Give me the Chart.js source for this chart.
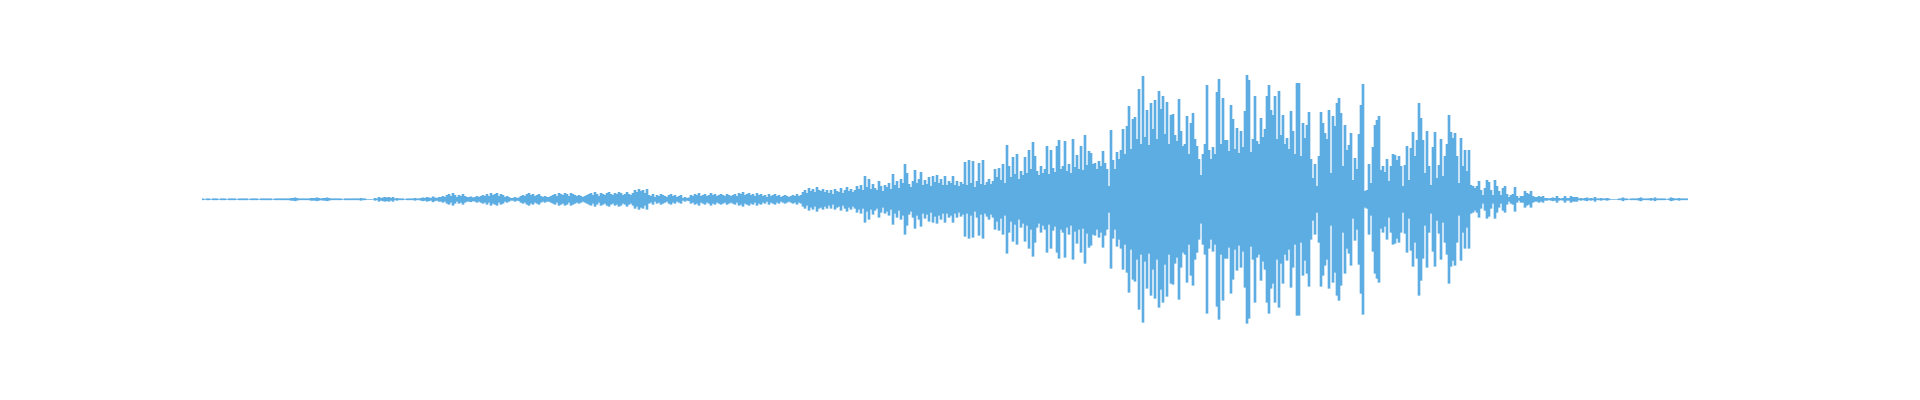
<!DOCTYPE html>
<html>
<head>
<meta charset="utf-8">
<title>Waveform</title>
<script src="https://cdn.jsdelivr.net/npm/chart.js@4"></script>
<style>
    html, body { margin: 0; padding: 0; background: #ffffff; }
    canvas { display: block; }
</style>
</head>
<body>
<canvas id="waveChart" width="1920" height="400"></canvas>
<script>
// peak amplitude per sample column (symmetric around zero)
const quietIntro = [
    0.5,0,0.5,0.5,0,0.5,0.5,0.5,0,0.5, 0.5,0.5,0,0.5,0.5,0.5,0.5,0,0.5,0.5,
    0.5,0.5,0.5,0,0.5,0.5,0.5,0.5,0,0.5, 0.5,0.5,0.5,0.5,0.5,0,0.5,0.5,0.5,0.5,
    0.5,0.5,0.5,0.5,1,1,1.5,1,0.5,0.5, 0.5,0.5,0.5,0.5,1,1,1,1.5,1,0.5,
    1,1,1.5,1,0.5,0.5,0.5,0.5,0.5,0.5, 0,0.5,0.5,0.5,0.5,0.5,0.5,0.5,0.5,1,
    0.5,0.5,0
];
const softRise = [
    0,0,0,
    1,0.5,2,1,1.5,2,1.5,2,1,2,0.5,1,0.5,
    0.5,0.5,0,0.5,0.5,0.5,0.5,1,0.5,0.5,
    1,1.5,1,2,1.5,1,2.5,1.5,1,2,
    2,3,2,4,5,3,6,4,2,4,3,5,3,2,
    2,2.5,1.5,2,3,2,
    3,4,3,5,3,6,4,5,6,3,5,4,2,3,2,
    1,1,2,1,1.5,
    3,4,3,5,6,4,5,3,4,5,3,
    2,3,2,2,3,
    4,5,3,6,5,4,6,5,3,6,5,4
];
const buildUp = [
    3,4,3,2,3,4,
    5,6,4,7,5,3,6,5,4,6,7,5,4,6,5,7,6,4,5,7,5,4,
    6,9,7,10,8,9,6,10,
    4,3,5,2,4,3,5,4,3,2,4,5,3,4,2,3,4,
    1,2,1,1.5,
    4,3,5,4,6,3,4,5,3,4,6,4,5,3,4,5,4,3,5,4,3,
    4,5,3,6,5,7,4,5,6,4,5,3,6,4,5,
    3,4,2,5,3,4,5,3,4,2,3,4,3,
    2,3,4,3,5,3,4,
    7,9,6,11,8,10,7,12,9,8,10,7,9,
    6,9,5,10,8,7,11,6,9,12,8,10,7,9,13,
    10,14,9,23,
    12,20,10,15,11,9,18,13,8,14,12,16,10,
    25,14,18,11,20,16,35,26,
    15,12,18,29,16,20,27,14,19,15,22,13,23,17,24,16,20,14,23,14,18
];
const loudPart = [
    16,23,14,18,13,17,15,
    37,14,39,16,38,12,18,36,15,39,
    14,17,20,15,18,30,22,31,19,35,16,54,
    33,22,42,25,45,20,28,24,42,26,49,30,57,
    43,28,24,33,26,30,53,25,49,31,27,53,59,
    30,33,58,28,35,26,60,32,44,30,53,29,64,34,48,
    46,35,36,30,38,33,48,36,30,13,69,39,30,47,
    40,49,70,45,73,93,50,80,82,60,110,55,123,62,89,54,
    96,70,99,60,108,90,103,65,97,55,84,85,64,58,100,68,53,
    55,83,45,76,86,60,53,40,24,45,55,114,49,40,52,45,107,
    120,55,101,59,59,48,94,80,50,71,46,68,52,88,124,119,
    47,60,103,58,55,81,62,70,103,114,89,84,103,60,108,64,84,
    55,61,50,88,68,45,116,116,43,76,61,74,87,40,21,35,13,43,87,76,66
];
const fadeOut = [
    60,89,26,83,73,96,101,
    86,33,74,49,54,66,19,41,30,65,94,115,8,
    9,35,16,52,74,79,83,29,33,27,40,18,33,
    45,44,39,43,33,13,34,53,19,51,67,43,59,96,
    81,59,26,68,33,14,52,67,21,34,60,23,43,55,
    84,67,61,66,43,16,61,33,49,28,49,14,13,11,
    13,18,9,4,11,19,17,9,4,19,13,8,4,11,13,5,2,4,5,12,3,1,3,3,8,6,5,8,3,2,
    2,3,2,3,1, 1,0.5,1,1.5,1, 3,1,0.5,1,3, 1,1,3,2,2,2,
    0.5,1,0.5,1,1.5, 0.5,1,0.5,2,0.5,0.5,1, 0.5,0.5,1,0.5,0, 0,0,0,0.5,
    0.5,1.5,0.5,0.5,0,0.5,0.5, 0.5,0.5,1,1.5,0.5,0.5,0.5,
    0.5,1,0.5,1.5,0.5,0.5,0.5, 0.5,0.5,0,0.5,1.5,1,0.5, 0.5,1,0.5,0.5,0.5,0.5
];

const amplitudes = [].concat(quietIntro, softRise, buildUp, loudPart, fadeOut);
const sampleLabels = amplitudes.map((v, i) => i + 1);

document.addEventListener('DOMContentLoaded', function() {
    createWaveChart();
});

function createWaveChart() {
    const ctx = document.getElementById('waveChart').getContext('2d');
    new Chart(ctx, {
        type: 'bar',
        data: {
            labels: sampleLabels,
            datasets: [{
                data: amplitudes.map(v => [-v, v]),
                backgroundColor: '#5dade2',
                borderWidth: 0,
                barPercentage: 1,
                categoryPercentage: 1
            }]
        },
        options: {
            responsive: false,
            animation: false,
            layout: {
                padding: { left: 202, right: 232, top: 0, bottom: 0 }
            },
            plugins: {
                legend: { display: false },
                tooltip: { enabled: false }
            },
            scales: {
                x: { display: false },
                y: { display: false, min: -200.7, max: 199.3 }
            }
        }
    });
}
</script>
</body>
</html>
